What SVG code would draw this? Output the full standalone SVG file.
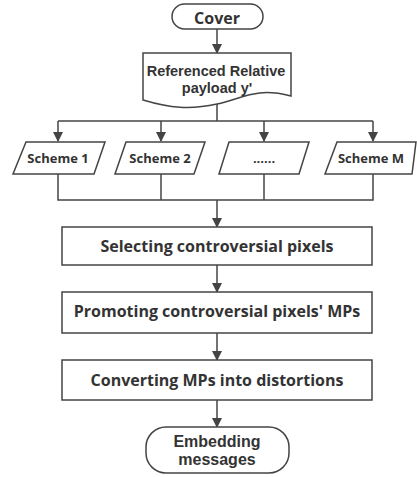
<svg xmlns="http://www.w3.org/2000/svg" width="417" height="477" viewBox="0 0 417 477">
<defs>
<style>
.s{fill:#fff;stroke:#444;stroke-width:1.5}
.c{fill:none;stroke:#444;stroke-width:1.5}
.t{font-family:"Open Sans","Noto Sans",sans-serif;font-weight:bold;font-size:16px;fill:#333;text-anchor:middle}
.t2{font-family:"Liberation Sans",Arial,sans-serif;font-weight:bold;font-size:16px;fill:#333;text-anchor:middle}
.tm{font-family:"Liberation Sans",Arial,sans-serif;font-weight:bold;font-size:14.5px;fill:#333;text-anchor:middle}
.ts{font-family:"Open Sans","Noto Sans",sans-serif;font-weight:bold;font-size:13px;fill:#333;text-anchor:middle}
</style>
<marker id="a" markerWidth="10" markerHeight="10" refX="9" refY="5" orient="auto" markerUnits="userSpaceOnUse">
<path d="M0,0 L10,5 L0,10 Z" fill="#444"/>
</marker>
</defs>
<rect width="417" height="477" fill="#fff"/>
<g id="connectors">
<path class="c" d="M217,29 V53" marker-end="url(#a)"/>
<path class="c" d="M217,104 V121"/>
<path class="c" d="M58,121 H373"/>
<path class="c" d="M58,121 V141" marker-end="url(#a)"/>
<path class="c" d="M161,121 V141" marker-end="url(#a)"/>
<path class="c" d="M264,121 V141" marker-end="url(#a)"/>
<path class="c" d="M373,121 V141" marker-end="url(#a)"/>
<path class="c" d="M58,174 V200 H373 V174"/>
<path class="c" d="M161,174 V200"/>
<path class="c" d="M264,174 V200"/>
<path class="c" d="M217,200 V227" marker-end="url(#a)"/>
<path class="c" d="M217,265 V292" marker-end="url(#a)"/>
<path class="c" d="M217,333 V360" marker-end="url(#a)"/>
<path class="c" d="M217,400 V427" marker-end="url(#a)"/>
</g>
<g id="cover">
<rect class="s" x="172" y="4" width="91" height="25" rx="12.5"/>
<text class="t" x="217" y="24">Cover</text>
</g>
<g id="payload">
<path class="s" d="M143,53 H291 V96 C256,87 244,98 217,104 C190,110 170,108 143,100 Z"/>
<text class="tm" x="216" y="76">Referenced Relative</text>
<text class="tm" x="217" y="93">payload y'</text>
</g>
<g id="scheme1">
<path class="s" d="M26,142 H105 L94,174 H13 Z"/>
<text class="ts" x="58" y="163">Scheme 1</text>
</g>
<g id="scheme2">
<path class="s" d="M126,142 H205 L194,174 H115 Z"/>
<text class="ts" x="160" y="163">Scheme 2</text>
</g>
<g id="schemeDots">
<path class="s" d="M229,142 H309 L299,174 H219 Z"/>
<text class="ts" x="264" y="163">......</text>
</g>
<g id="schemeM">
<path class="s" d="M337,142 H416 L412,174 H325 Z"/>
<text class="ts" x="371" y="163">Scheme M</text>
</g>
<g id="select">
<rect class="s" x="62" y="227" width="310" height="38"/>
<text class="t" x="217" y="252">Selecting controversial pixels</text>
</g>
<g id="promote">
<rect class="s" x="62" y="292" width="310" height="41"/>
<text class="t" x="217" y="317">Promoting controversial pixels' MPs</text>
</g>
<g id="convert">
<rect class="s" x="62" y="360" width="310" height="40"/>
<text class="t" x="217" y="386">Converting MPs into distortions</text>
</g>
<g id="embed">
<rect class="s" x="146" y="427" width="143" height="46" rx="20"/>
<text class="t2" x="217" y="447">Embedding</text>
<text class="t2" x="217" y="465">messages</text>
</g>
</svg>
